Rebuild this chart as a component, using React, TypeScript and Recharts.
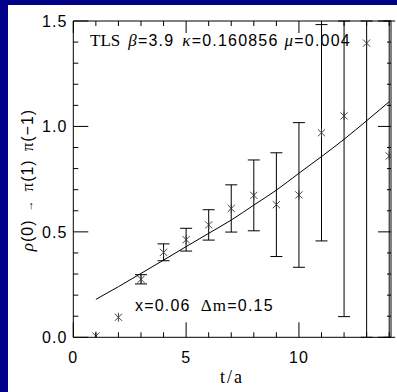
import { ComposedChart, ErrorBar, Line, Scatter, XAxis, YAxis } from 'recharts';

// measured correlator ratio vs t/a
const tValues = [1, 2, 3, 4, 5, 6, 7, 8, 9, 10, 11, 12, 13, 14];
const ratioValues = [0.006, 0.095, 0.275, 0.403, 0.463, 0.533, 0.611, 0.673, 0.629, 0.675, 0.97, 1.05, 1.395, 0.86];
// [below, above]; bars that leave the frame are cut at the frame edge
const errBelow = [null, null, 0.022, 0.04, 0.054, 0.072, 0.112, 0.168, 0.246, 0.343, 0.513, 0.952, 1.395, 0.86];
const errAbove = [null, null, 0.022, 0.04, 0.054, 0.072, 0.112, 0.168, 0.246, 0.343, 0.513, 0.45, 0.105, 0.64];

// fit curve
const fitT = [1, 2, 3, 4, 5, 6, 7, 8, 9, 10, 11, 12, 13, 14];
const fitValues = [0.18, 0.24, 0.303, 0.366, 0.43, 0.493, 0.556, 0.627, 0.698, 0.778, 0.857, 0.939, 1.027, 1.117];

const xTicks = [0, 1, 2, 3, 4, 5, 6, 7, 8, 9, 10, 11, 12, 13, 14];
const xMajor = [0, 5, 10];
const yTicks = [0, 0.1, 0.2, 0.3, 0.4, 0.5, 0.6, 0.7, 0.8, 0.9, 1, 1.1, 1.2, 1.3, 1.4, 1.5];
const yMajor = [0, 0.5, 1, 1.5];

const points = tValues.map((t, i) => ({
  t,
  y: ratioValues[i],
  err: errBelow[i] == null ? null : [errBelow[i], errAbove[i]],
}));
const fit = fitT.map((t, i) => ({ t, fit: fitValues[i] }));

const NUM_FONT = '"Liberation Sans", Arial, sans-serif';
const SERIF = '"Liberation Serif", "Times New Roman", serif';

function Star(props: any) {
  const { cx, cy } = props;
  if (cx == null || cy == null) return null;
  const s = 3.6;
  return (
    <g stroke="#333" strokeWidth={0.9}>
      <line x1={cx} y1={cy - 4.5} x2={cx} y2={cy + 4.5} />
      <line x1={cx - s} y1={cy - s} x2={cx + s} y2={cy + s} />
      <line x1={cx - s} y1={cy + s} x2={cx + s} y2={cy - s} />
    </g>
  );
}

function XTick(props: any) {
  const { x, y, payload, top } = props;
  const major = xMajor.includes(payload.value);
  const len = major ? (top ? 12 : 15) : 5;
  return (
    <g>
      <line x1={x} x2={x} y1={y} y2={top ? y + len : y - len} stroke="#000" />
      {!top && major && (
        <text x={x} y={y + 26} textAnchor="middle" fontSize={16} letterSpacing={1} fontFamily={NUM_FONT} fill="#000">
          {payload.value}
        </text>
      )}
    </g>
  );
}

function YTick(props: any) {
  const { x, y, payload, right } = props;
  const major = yMajor.includes(payload.value);
  const len = major ? (right ? 13 : 15) : (right ? 4 : 5);
  return (
    <g>
      <line x1={x} x2={right ? x - len : x + len} y1={y} y2={y} stroke="#000" />
      {!right && major && (
        <text x={x - 6} y={y + 6} textAnchor="end" fontSize={16} letterSpacing={1} fontFamily={NUM_FONT} fill="#000">
          {payload.value.toFixed(1)}
        </text>
      )}
    </g>
  );
}

export default function App() {
  return (
    <div style={{ position: 'absolute', left: 0, top: 0, width: 397, height: 392, background: '#000088', overflow: 'hidden' }}>
      <div style={{ position: 'absolute', left: 8, top: 5, width: 389, height: 387, background: '#fff' }}>
        <ComposedChart width={389} height={387} margin={{ top: 15, right: 5, bottom: 53.7, left: 64.3 }}>
          <XAxis
            xAxisId={0}
            dataKey="t"
            type="number"
            domain={[0, 14.08]}
            ticks={xTicks}
            interval={0}
            height={1}
            tickSize={0}
            tickMargin={0}
            tickLine={false}
            allowDataOverflow
            axisLine={{ stroke: '#000' }}
            tick={(p: any) => <XTick {...p} />}
          />
          <XAxis
            xAxisId="top"
            orientation="top"
            dataKey="t"
            type="number"
            domain={[0, 14.08]}
            ticks={xTicks}
            interval={0}
            height={1}
            tickSize={0}
            tickMargin={0}
            tickLine={false}
            allowDataOverflow
            axisLine={{ stroke: '#000' }}
            tick={(p: any) => <XTick {...p} top />}
          />
          <YAxis
            yAxisId={0}
            type="number"
            domain={[0, 1.5]}
            ticks={yTicks}
            interval={0}
            width={1}
            tickSize={0}
            tickMargin={0}
            tickLine={false}
            allowDataOverflow
            axisLine={{ stroke: '#000' }}
            tick={(p: any) => <YTick {...p} />}
          />
          <YAxis
            yAxisId="right"
            orientation="right"
            type="number"
            domain={[0, 1.5]}
            ticks={yTicks}
            interval={0}
            width={1}
            tickSize={0}
            tickMargin={0}
            tickLine={false}
            allowDataOverflow
            axisLine={{ stroke: '#000' }}
            tick={(p: any) => <YTick {...p} right />}
          />
          <Line
            data={fit}
            dataKey="fit"
            type="monotone"
            dot={false}
            stroke="#000"
            strokeWidth={1}
            isAnimationActive={false}
          />
          <Scatter data={points} dataKey="y" shape={(p: any) => <Star {...p} />} isAnimationActive={false}>
            <ErrorBar dataKey="err" direction="y" width={6} stroke="#000" strokeWidth={1} isAnimationActive={false} />
          </Scatter>
        </ComposedChart>
      </div>
      <svg width={397} height={392} style={{ position: 'absolute', left: 0, top: 0, pointerEvents: 'none' }}>
        <text x={90} y={46} fontSize={16} letterSpacing={1.2} fill="#000" fontFamily={NUM_FONT}>
          <tspan fontFamily={SERIF} fontSize={17} letterSpacing={0}>TLS</tspan>
          <tspan dx={8} fontFamily={SERIF} fontStyle="italic" fontSize={17}>β</tspan>
          <tspan>=3.9</tspan>
          <tspan dx={8} fontFamily={SERIF} fontStyle="italic" fontSize={17}>κ</tspan>
          <tspan>=0.160856</tspan>
          <tspan dx={6} fontFamily={SERIF} fontStyle="italic" fontSize={17}>μ</tspan>
          <tspan>=0.004</tspan>
        </text>
        <text x={135} y={311} fontSize={16} letterSpacing={1.2} fill="#000" fontFamily={NUM_FONT}>
          <tspan>x=0.06</tspan>
          <tspan dx={10} fontFamily={SERIF} fontSize={17}>Δm</tspan>
          <tspan>=0.15</tspan>
        </text>
        <text
          x={0}
          y={0}
          transform="translate(33,180) rotate(-90)"
          textAnchor="middle"
          fontSize={16}
          letterSpacing={1}
          fill="#000"
          fontFamily={NUM_FONT}
        >
          <tspan fontFamily={SERIF} fontStyle="italic" fontSize={17}>ρ</tspan>
          <tspan>(0)</tspan>
          <tspan dx={8} fontSize={11}>→</tspan>
          <tspan dx={8} fontFamily={SERIF} fontSize={17}>π</tspan>
          <tspan>(1)</tspan>
          <tspan dx={8} fontFamily={SERIF} fontSize={17}>π</tspan>
          <tspan>(−1)</tspan>
        </text>
        <text x={232} y={383} textAnchor="middle" fontSize={18} letterSpacing={2} fill="#000" fontFamily={SERIF}>
          t/a
        </text>
      </svg>
    </div>
  );
}
